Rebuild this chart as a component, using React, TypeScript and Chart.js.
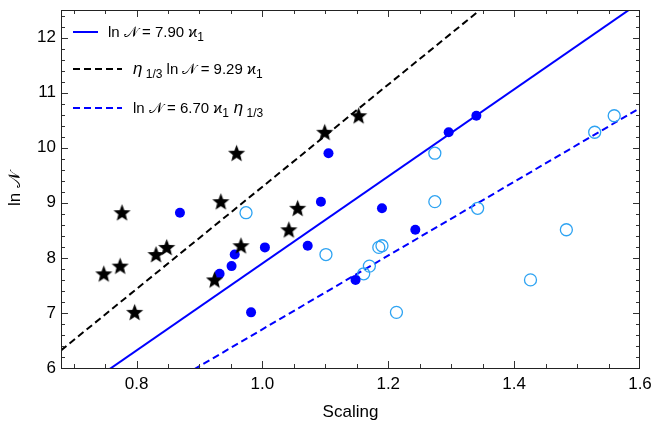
import React, { useEffect, useRef } from "react";
import { Chart, registerables } from "chart.js";

Chart.register(...registerables);

// ln N values shared by the three groups
const lnN = [10.58, 10.28, 9.9, 9.02, 8.9, 8.82, 8.51, 8.22, 8.19, 8.06, 7.85, 7.71, 7.6, 7.01];
// Scaling for each group
const starScaling = [1.153, 1.099, 0.959, 0.934, 1.056, 0.777, 1.042, 0.966, 0.848, 0.831, 0.774, 0.748, 0.924, 0.797];
const dotScaling = [1.34, 1.296, 1.105, 1.093, 1.19, 0.869, 1.243, 1.072, 1.004, 0.956, 0.951, 0.932, 1.148, 0.982];
const openScaling = [1.559, 1.528, 1.274, 1.274, 1.342, 0.974, 1.483, 1.19, 1.185, 1.101, 1.17, 1.161, 1.426, 1.213];

// Fit lines (endpoints)
const fitX = [0.68, 1.6];
const fitSolidY = [5.37, 12.64]; // ln N = 7.90 x1
const fitBlackY = [6.32, 14.86]; // eta ln N = 9.29 x1
const fitBlueDashY = [4.56, 10.72]; // ln N = 6.70 x1 eta

const xTicks = [0.8, 1.0, 1.2, 1.4, 1.6];
const yTicks = [6, 7, 8, 9, 10, 11, 12];

const FONT = "'Liberation Sans', Arial, sans-serif";
const BLUE = "#0000ff";
const LIGHT = "#2ea3f2";

function makeStar(): HTMLCanvasElement {
  const c = document.createElement("canvas");
  const s = 19;
  c.width = s;
  c.height = s;
  const ctx = c.getContext("2d")!;
  const cx = s / 2, cy = s / 2 + 0.6;
  const R = 9, r = 3.9;
  ctx.beginPath();
  for (let i = 0; i < 10; i++) {
    const rad = i % 2 === 0 ? R : r;
    const a = -Math.PI / 2 + (i * Math.PI) / 5;
    const px = cx + rad * Math.cos(a);
    const py = cy + rad * Math.sin(a);
    if (i === 0) ctx.moveTo(px, py);
    else ctx.lineTo(px, py);
  }
  ctx.closePath();
  ctx.fillStyle = "#000";
  ctx.fill();
  return c;
}

type Seg = { t: string; italic?: boolean; sub?: boolean };

const legendRows: { y: number; len: number; color: string; dash: number[]; textX: number; segs: Seg[] }[] = [
  {
    y: 32, len: 25, color: BLUE, dash: [], textX: 108,
    segs: [{ t: "ln 𝒩 = 7.90 ϰ" }, { t: "1", sub: true }],
  },
  {
    y: 69, len: 49, color: "#000", dash: [7, 4], textX: 133,
    segs: [{ t: "η", italic: true }, { t: " 1/3", sub: true }, { t: " ln 𝒩 = 9.29 ϰ" }, { t: "1", sub: true }],
  },
  {
    y: 108, len: 49, color: BLUE, dash: [7, 4], textX: 133,
    segs: [{ t: "ln 𝒩 = 6.70 ϰ" }, { t: "1", sub: true }, { t: " η", italic: true }, { t: " 1/3", sub: true }],
  },
];

const framePlugin = {
  id: "frameTicks",
  afterDraw(chart: any) {
    const ctx = chart.ctx as CanvasRenderingContext2D;
    const { left, right, top, bottom } = chart.chartArea;
    const xs = chart.scales.x;
    const ys = chart.scales.y;
    ctx.save();
    ctx.strokeStyle = "#333";
    ctx.lineWidth = 1;
    for (let i = 14; i <= 32; i++) {
      const v = i * 0.05;
      const px = Math.round(xs.getPixelForValue(v)) + 0.5;
      if (px < left || px > right) continue;
      const major = i % 4 === 0;
      const L = major ? 7 : 4;
      ctx.beginPath();
      ctx.moveTo(px, bottom);
      ctx.lineTo(px, bottom - L);
      ctx.moveTo(px, top);
      ctx.lineTo(px, top + L);
      ctx.stroke();
    }
    for (let i = 30; i <= 63; i++) {
      const v = i * 0.2;
      const py = Math.round(ys.getPixelForValue(v)) + 0.5;
      if (py < top || py > bottom) continue;
      const major = i % 5 === 0;
      const L = major ? 7 : 4;
      ctx.beginPath();
      ctx.moveTo(left, py);
      ctx.lineTo(left + L, py);
      ctx.moveTo(right, py);
      ctx.lineTo(right - L, py);
      ctx.stroke();
    }
    ctx.strokeStyle = "#222";
    ctx.strokeRect(left + 0.5, top + 0.5, right - left - 1, bottom - top);

    // legend
    for (const row of legendRows) {
      ctx.save();
      ctx.strokeStyle = row.color;
      ctx.lineWidth = 2;
      ctx.setLineDash(row.dash);
      ctx.beginPath();
      ctx.moveTo(left + 12, row.y);
      ctx.lineTo(left + 12 + row.len, row.y);
      ctx.stroke();
      ctx.restore();
      let x = row.textX;
      ctx.fillStyle = "#000";
      ctx.textBaseline = "alphabetic";
      ctx.textAlign = "left";
      for (const s of row.segs) {
        const size = s.sub ? 12 : s.italic ? 17 : 15;
        ctx.font = `${s.italic ? "italic " : ""}${size}px ${FONT}`;
        const yy = row.y + 5 + (s.sub ? 4 : 0);
        ctx.fillText(s.t, x, yy);
        x += ctx.measureText(s.t).width;
      }
    }
    ctx.restore();
  },
};

export default function App() {
  const ref = useRef<HTMLCanvasElement>(null);
  useEffect(() => {
    const star = makeStar();
    const pts = (xs: number[]) => xs.map((x, i) => ({ x, y: lnN[i] }));
    const line = (ys: number[]) => fitX.map((x, i) => ({ x, y: ys[i] }));
    const chart = new Chart(ref.current!, {
      type: "scatter",
      data: {
        datasets: [
          { label: "stars", data: pts(starScaling), pointStyle: star as any, pointRadius: 9, backgroundColor: "#000", borderColor: "#000" },
          { label: "dots", data: pts(dotScaling), pointStyle: "circle", pointRadius: 5, backgroundColor: BLUE, borderColor: BLUE, borderWidth: 0 },
          { label: "open", data: pts(openScaling), pointStyle: "circle", pointRadius: 6, backgroundColor: "rgba(0,0,0,0)", borderColor: LIGHT, borderWidth: 1.3 },
          { label: "fit1", type: "line", data: line(fitSolidY), showLine: true, borderColor: BLUE, borderWidth: 2, pointRadius: 0 } as any,
          { label: "fit2", type: "line", data: line(fitBlackY), showLine: true, borderColor: "#000", borderWidth: 2, borderDash: [7, 4], pointRadius: 0 } as any,
          { label: "fit3", type: "line", data: line(fitBlueDashY), showLine: true, borderColor: BLUE, borderWidth: 2, borderDash: [7, 4], pointRadius: 0 } as any,
        ],
      },
      options: {
        responsive: false,
        animation: false,
        events: [],
        layout: { padding: { top: 10, right: 14, left: 0, bottom: 0 } },
        plugins: { legend: { display: false }, tooltip: { enabled: false } },
        scales: {
          x: {
            type: "linear",
            min: 0.68,
            max: 1.6,
            grid: { display: false, drawTicks: false },
            border: { display: false },
            afterFit: (s: any) => { s.height = 61; s.paddingLeft = 0; s.paddingRight = 0; },
            afterBuildTicks: (s: any) => { s.ticks = xTicks.map((v) => ({ value: v })); },
            ticks: {
              padding: 6,
              color: "#000",
              font: { family: FONT, size: 17 },
              maxRotation: 0,
              callback: (v: any) => Number(v).toFixed(1),
            },
            title: { display: true, text: "Scaling", color: "#000", font: { family: FONT, size: 17 }, padding: { top: 0, bottom: 6 } },
          },
          y: {
            type: "linear",
            min: 6,
            max: 12.5,
            grid: { display: false, drawTicks: false },
            border: { display: false },
            afterFit: (s: any) => { s.width = 61; s.paddingTop = 0; s.paddingBottom = 0; },
            afterBuildTicks: (s: any) => { s.ticks = yTicks.map((v) => ({ value: v })); },
            ticks: {
              padding: 5,
              color: "#000",
              font: { family: FONT, size: 17 },
              callback: (v: any) => String(v),
            },
            title: { display: true, text: "ln 𝒩", color: "#000", font: { family: FONT, size: 17 }, padding: { top: 5, bottom: 0 } },
          },
        },
      },
      plugins: [framePlugin],
    });
    return () => chart.destroy();
  }, []);
  return (
    <canvas
      ref={ref}
      width={654}
      height={429}
      style={{ position: "absolute", left: 0, top: 0, display: "block", background: "#fff" }}
    />
  );
}
